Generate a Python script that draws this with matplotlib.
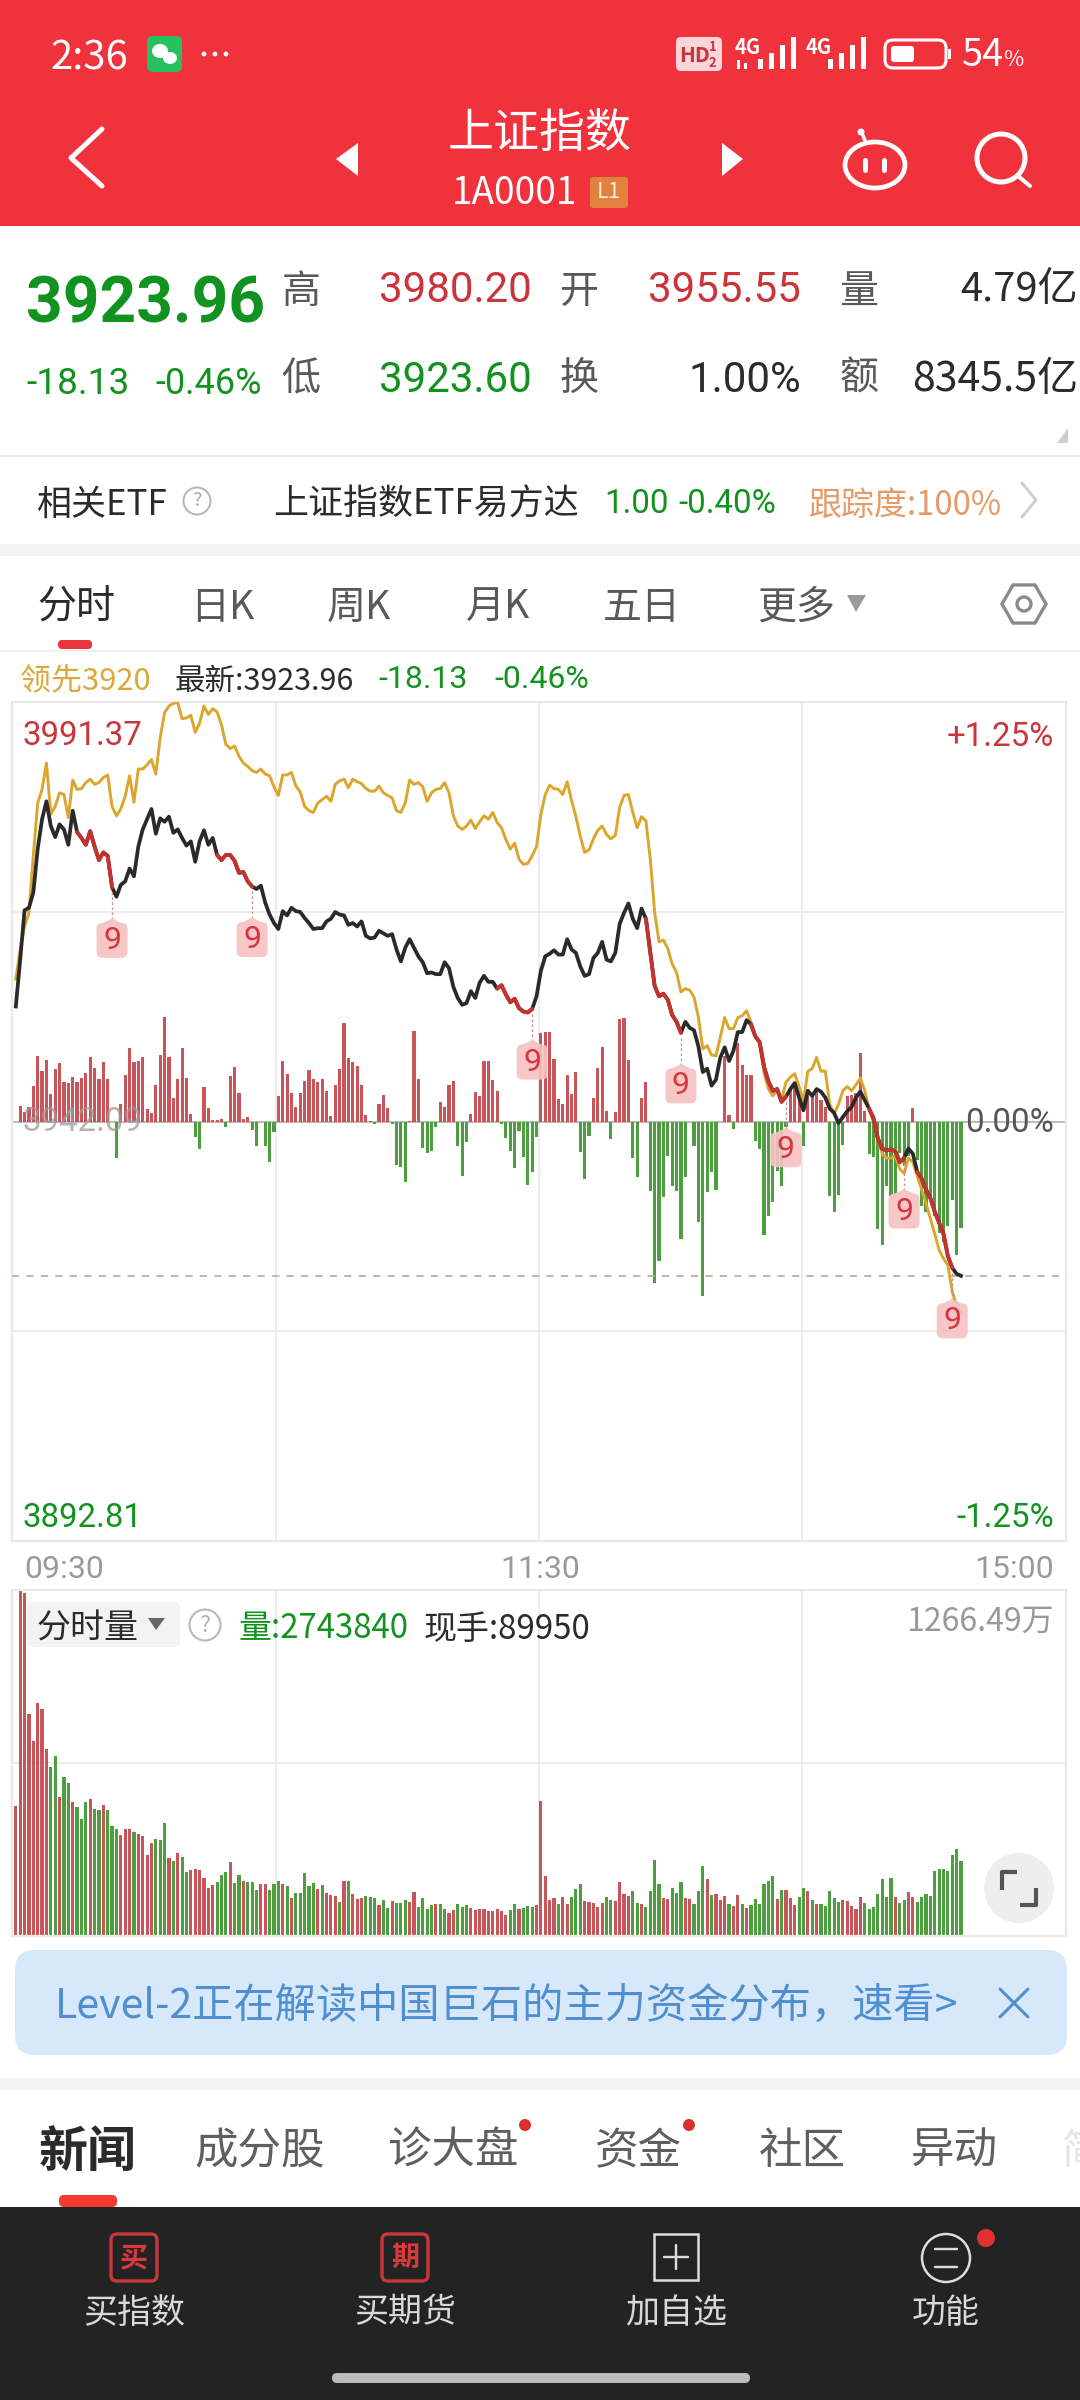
import matplotlib
matplotlib.use("Agg")
import matplotlib.pyplot as plt
from matplotlib.patches import Rectangle, FancyBboxPatch, Circle, Ellipse, Polygon
import numpy as np

# ---------- data ----------
prev_close = 3942.09
price_top = 3991.37
price_bot = 3892.81
vol_max = 1266.49

price = [
3955.6,3961.1,3966.9,3967.2,3969.0,3974.1,3977.6,3979.7,3976.8,3975.5,
3977.0,3976.4,3974.6,3978.6,3976.1,3975.4,3974.6,3976.2,3974.4,3972.8,
3973.7,3973.3,3969.6,3968.5,3969.9,3970.3,3971.8,3970.9,3974.4,3976.4,
3977.6,3978.8,3975.9,3977.7,3977.3,3977.9,3976.0,3976.4,3975.4,3974.5,
3975.0,3972.6,3975.0,3976.3,3974.6,3975.4,3973.4,3972.8,3973.4,3973.4,
3972.7,3971.3,3971.4,3970.3,3969.7,3969.4,3969.8,3967.8,3966.4,3965.4,
3964.7,3966.8,3966.3,3967.2,3966.8,3966.7,3966.0,3965.4,3964.7,3964.8,
3964.8,3965.6,3965.9,3966.7,3966.4,3966.3,3965.2,3965.4,3965.0,3965.6,
3963.9,3963.6,3963.7,3964.5,3964.2,3963.9,3964.1,3962.3,3960.9,3962.5,
3963.5,3962.5,3961.5,3960.8,3959.5,3959.6,3959.4,3959.4,3960.8,3960.1,
3957.9,3956.6,3955.8,3956.0,3957.4,3956.6,3958.4,3959.2,3958.5,3958.5,
3957.7,3958.1,3957.0,3956.1,3956.5,3955.4,3955.0,3954.9,3955.3,3956.8,
3959.8,3961.5,3961.8,3962.2,3961.7,3961.7,3963.5,3962.3,3961.9,3960.3,
3959.2,3959.4,3961.3,3961.9,3963.2,3961.1,3960.9,3961.9,3965.3,3966.6,
3967.7,3965.9,3964.8,3967.1,3965.9,3961.9,3958.0,3956.8,3957.1,3956.4,
3954.6,3953.8,3952.5,3953.8,3953.1,3952.8,3950.9,3947.9,3948.3,3946.3,
3947.0,3949.6,3950.8,3949.2,3950.4,3952.6,3952.6,3954.0,3953.5,3952.1,
3951.4,3948.5,3946.8,3945.7,3945.9,3944.4,3945.0,3945.9,3946.6,3944.9,
3943.4,3945.7,3945.1,3945.9,3945.6,3944.9,3943.6,3943.1,3941.9,3942.6,
3943.3,3943.8,3944.9,3945.6,3944.6,3943.6,3942.5,3940.1,3938.9,3938.7,
3938.8,3938.6,3937.3,3937.8,3938.9,3938.3,3936.2,3935.4,3934.1,3933.1,
3931.5,3930.2,3928.9,3926.3,3924.9,3924.2,3923.96]

leader = [
3958.8,3962.3,3965.0,3966.6,3973.3,3979.5,3981.1,3984.2,3978.2,3979.1,
3980.7,3980.5,3977.8,3982.2,3981.1,3981.2,3981.9,3982.3,3981.7,3981.9,
3982.5,3982.8,3979.1,3978.0,3978.8,3980.3,3982.7,3979.6,3983.5,3983.5,
3984.0,3984.6,3982.9,3987.2,3990.1,3990.9,3991.2,3991.3,3989.4,3989.5,
3989.8,3987.8,3988.9,3990.9,3989.9,3990.6,3990.2,3988.7,3986.4,3985.9,
3986.2,3985.0,3984.2,3983.8,3983.3,3983.1,3983.5,3982.9,3982.7,3981.4,
3980.4,3982.8,3982.8,3983.1,3981.5,3980.8,3979.1,3978.6,3978.4,3979.5,
3979.9,3980.3,3979.7,3981.7,3982.1,3982.3,3981.3,3982.3,3982.0,3981.8,
3981.2,3980.9,3980.9,3981.5,3980.7,3980.4,3980.1,3978.6,3978.4,3979.5,
3982.2,3981.7,3981.9,3981.4,3979.7,3980.7,3981.1,3981.2,3981.9,3980.7,
3978.0,3976.8,3976.4,3976.8,3977.5,3976.5,3977.3,3978.0,3977.6,3978.4,
3977.2,3976.6,3975.2,3974.1,3974.8,3972.9,3972.3,3972.4,3973.3,3974.4,
3978.2,3980.5,3981.6,3981.2,3981.1,3980.5,3982.0,3979.8,3977.9,3975.6,
3973.7,3974.0,3975.3,3976.3,3976.8,3975.8,3975.3,3975.7,3979.0,3980.4,
3980.5,3978.4,3976.6,3977.9,3977.4,3972.9,3966.6,3963.2,3963.4,3962.4,
3960.6,3959.6,3957.3,3957.7,3957.5,3956.7,3954.3,3950.6,3951.0,3949.9,
3949.8,3952.0,3954.3,3953.0,3953.0,3954.3,3954.5,3955.1,3953.8,3952.2,
3951.4,3947.8,3945.9,3945.1,3945.7,3944.6,3946.7,3947.3,3947.7,3946.2,
3944.4,3948.0,3948.3,3949.6,3948.0,3948.0,3944.1,3943.0,3944.1,3945.7,
3946.2,3945.7,3946.4,3947.2,3945.7,3943.6,3942.0,3939.9,3938.3,3937.8,
3937.8,3938.1,3936.5,3936.0,3937.8,3937.3,3935.7,3934.1,3932.5,3930.7,
3928.9,3927.0,3926.0,3925.2,3922.1,3920.5,3919.7]

flow = [
0,16,10,15,36,66,51,62,28,53,
59,40,39,45,40,44,49,65,54,43,
60,43,0,-36,18,47,74,60,61,65,
13,9,37,67,105,65,24,43,74,44,
8,-15,-27,35,14,2,2,3,-5,46,
55,29,3,5,-8,-24,0,-24,-40,-10,
26,61,48,29,15,29,41,52,43,40,
43,31,6,37,53,99,64,60,56,37,
7,1,-2,18,27,14,-2,-43,-45,-60,
1,91,43,-26,-31,-29,-5,20,15,37,
41,-24,-54,-20,8,30,26,61,61,42,
31,-2,-16,-29,-46,-9,-35,-63,-50,-15,
89,90,90,63,23,18,47,28,50,-30,
-57,-14,24,54,75,11,-17,10,103,104,
62,-36,-55,24,40,-69,-161,-139,-75,-34,
-64,-69,-117,-55,0,-24,-100,-174,-70,-50,
-68,0,66,7,-7,79,57,47,47,-19,
-27,-113,-94,-80,-49,-64,-5,34,39,22,
-24,26,27,31,22,15,-74,-90,-73,-23,
26,27,29,69,11,-32,-35,-107,-123,-64,
-74,-72,-31,-44,-34,14,-38,-84,-90,-78,
-94,-111,-120,-104,-78,-133,-106]

volume = [
477,1266,1255,812,715,853,831,686,619,658,
507,582,560,490,473,429,492,503,465,463,
479,460,404,390,368,390,392,381,375,365,
297,339,356,350,414,285,276,302,289,236,
241,244,240,213,174,185,199,225,234,272,
195,222,203,197,199,167,192,191,167,191,
203,192,183,140,156,156,229,183,195,173,
185,158,150,146,124,202,200,155,136,138,
145,143,140,112,130,102,129,122,122,132,
124,160,106,140,97,112,118,118,100,85,
95,118,106,114,104,94,100,100,90,90,
97,90,78,95,118,100,102,110,107,114,
493,219,130,140,118,144,116,144,171,189,
129,124,119,105,119,144,132,127,197,155,
145,163,122,116,105,164,280,192,139,134,
174,158,199,139,136,117,163,255,207,149,
152,132,146,118,110,150,116,101,112,134,
117,192,201,219,134,167,167,138,112,144,
177,164,133,116,116,110,166,138,125,133,
129,110,97,144,122,100,105,153,207,144,
213,144,122,133,161,141,124,144,152,146,
238,246,246,239,297,317,274]

volume_dir = (
"rrrrrrrrgg" "rggrgggrgg" "rgggrrrgrr" "rrgggrgrgg"
"rrrrrrgggr" "ggrgggrrgg" "grgrgggggr" "grrrgrgrrr"
"gggrggrggg" "rrggggrggr" "rgggrrrrrr" "rrrggrgggr"
"rrrrgrrggg" "rrrrrggrrr" "rggrggggrr" "gggrrgggrg"
"rrrgrrgrgg" "ggggrgrrrg" "grgrgggggr" "rrrrgggggg"
"grggrrgggg" "ggggggg")

red_runs = [(14,22),(46,54),(110,118),(144,152),(168,176),(195,203),(206,214)]
nine_marks = [22,54,118,152,176,203,214]
grid_fracs = [0.25,0.5,0.75]

RED='#c9353a'; GREEN='#12921f'; GRAY='#595959'; DARK='#2b2b2b'
BAR_R='#c9555b'; BAR_G='#4c9e3e'; GOLD='#dca52c'; LINE='#e9e9e9'

NUM=['Roboto','Noto Sans CJK SC']
CJK=['Noto Sans CJK SC','DejaVu Sans']

fig=plt.figure(figsize=(10.8,24),dpi=100,facecolor='white')
W,H=1080,2400
ui=fig.add_axes([0,0,1,1]); ui.set_xlim(0,W); ui.set_ylim(H,0); ui.axis('off')

def T(x,y,s,px,c=DARK,ha='left',w='normal',fam=NUM,a=None,zo=20,axs=None):
    return (axs or ui).text(x,y+4,s,fontsize=px*0.72,color=c,ha=ha,va='center',fontweight=w,family=fam,alpha=a,zorder=zo)
def R(x0,y0,x1,y1,c,zo=1):
    ui.add_patch(Rectangle((x0,y0),x1-x0,y1-y0,fc=c,ec='none',zorder=zo))
def RR(x0,y0,x1,y1,r,fc,ec='none',lw=0,zo=2):
    ui.add_patch(FancyBboxPatch((x0+r,y0+r),x1-x0-2*r,y1-y0-2*r,boxstyle=f"round,pad={r},rounding_size={r}",fc=fc,ec=ec,lw=lw,zorder=zo,mutation_aspect=1))
def L(xs,ys,c,lw,zo=5,cap='round'):
    ui.plot(xs,ys,color=c,lw=lw*0.72,zorder=zo,solid_capstyle=cap,solid_joinstyle='round')

# ---------- header ----------
R(0,0,W,226,'#f0323c')
T(50,54,'2:36',40,'white',fam=CJK)
RR(147,36,182,72,6,'#27c25f',zo=3)
ui.add_patch(Ellipse((160,51),16,14,fc='white',ec='none',zorder=4))
ui.add_patch(Ellipse((170,58),14,12,fc='white',ec='none',zorder=4))
for x in (204,215,226): ui.add_patch(Circle((x,54),2.4,fc='white',ec='none',zorder=4))
RR(676,37,722,71,5,'#fbd5d7',zo=3)
T(679,51,'HD',21,RED,w='bold',fam=CJK)
T(709,43,'1',13,RED,w='bold',fam=CJK); T(709,59,'2',13,RED,w='bold',fam=CJK)
T(735,43,'4G',20,'white',w='bold',fam=CJK)
T(806,43,'4G',20,'white',w='bold',fam=CJK)
for x0,hs in ((758,(10,16,24,32)),(828,(10,16,24,32))):
    for k,hh in enumerate(hs):
        R(x0+k*11,69-hh,x0+k*11+5,69,'white',3)
R(737,60,740,69,'white',3); R(744,63,747,69,'white',3)
RR(885,40,946,68,8,'none','white',2.2,zo=3)
RR(891,46,914,62,3,'white',zo=4)
R(948,49,951,59,'white',3)
T(962,52,'54',38,'white',fam=CJK)
T(1003,56,'%',22,'white',fam=CJK)
T(540,130,'上证指数',46,'white',ha='center',fam=CJK)
T(452,189,'1A0001',37,'white',fam=CJK)
RR(590,177,628,208,3,'#e0813d',zo=3)
T(609,188,'L1',22,'#ffe9d8',ha='center',fam=CJK)
L([102,71,102],[129,158,186],'white',5)
ui.add_patch(Polygon([(336,159),(358,143),(358,176)],fc='white',ec='none',zorder=4))
ui.add_patch(Polygon([(743,159),(722,143),(722,176)],fc='white',ec='none',zorder=4))
ui.add_patch(Ellipse((875,165),60,46,fc='none',ec='white',lw=3.4,zorder=4))
L([866,862],[143,133],'white',3.5)
ui.add_patch(Circle((861,132),3.5,fc='white',ec='none',zorder=4))
L([865,865],[160,170],'white',5); L([884,884],[160,170],'white',5)
ui.add_patch(Circle((1001,158),24,fc='none',ec='white',lw=3.6,zorder=4))
L([1018,1030],[176,186],'white',4)

# ---------- quote ----------
T(26,301,'3923.96',64,GREEN,w='bold')
T(26,380,'-18.13',37,GREEN); T(155,380,'-0.46%',36,GREEN)
for x,y,s in ((301,288,'高'),(301,375,'低'),(579,288,'开'),(579,375,'换'),(859,288,'量'),(859,375,'额')):
    T(x,y,s,39,GRAY,ha='center',fam=CJK)
T(379,286,'3980.20',42,RED); T(379,376,'3923.60',42,GREEN)
T(801,286,'3955.55',42,RED,ha='right'); T(801,376,'1.00%',42,DARK,ha='right')
T(1078,286,'4.79亿',40,DARK,ha='right',fam=CJK); T(1078,376,'8345.5亿',41,DARK,ha='right',fam=CJK)
ui.add_patch(Polygon([(1068,428),(1068,443),(1057,443)],fc='#cfcfcf',ec='none',zorder=3))
R(0,455,W,457,LINE)
T(36,501,'相关ETF',35,DARK,fam=CJK)
ui.add_patch(Circle((197,501),13.5,fc='none',ec='#b5b5b5',lw=1.4,zorder=4))
T(197,497,'?',20,'#a8a8a8',ha='center',fam=CJK)
T(273,501,'上证指数ETF易方达',35,DARK,fam=CJK)
T(604,500,'1.00',33,GREEN); T(678,500,'-0.40%',33,GREEN)
T(809,501,'跟踪度:100%',33,'#e79a68',fam=CJK)
L([1022,1036,1022],[483,500,517],'#cfcfcf',3)
R(0,544,W,556,'#f3f3f3')
for x,s,c in ((37,'分时',DARK),(190,'日K',GRAY),(327,'周K',GRAY),(466,'月K',GRAY),(603,'五日',GRAY),(757,'更多',GRAY)):
    T(x,604,s,39,c,fam=CJK)
ui.add_patch(Polygon([(847,595),(866,595),(856,612)],fc='#9a9a9a',ec='none',zorder=3))
hx=[1024+22*np.cos(a) for a in np.deg2rad(np.arange(0,360,60))]
hy=[604+22*np.sin(a) for a in np.deg2rad(np.arange(0,360,60))]
ui.add_patch(Polygon(list(zip(hx,hy)),fc='none',ec='#8a8a8a',lw=2.4,zorder=3))
ui.add_patch(Circle((1024,604),7,fc='none',ec='#8a8a8a',lw=2.4,zorder=3))
RR(58,640,92,649,4,'#e8363c')
R(0,650,W,652,'#f0f0f0')
T(20,677,'领先3920',31,'#d9a93a',fam=CJK)
T(175,677,'最新:3923.96',30.5,DARK,fam=CJK)
T(378,676,'-18.13',32,GREEN); T(494,676,'-0.46%',32,GREEN)

# ---------- price panel ----------
def rect_px(x0,y0,x1,y1):
    return [x0/W,1-y1/H,(x1-x0)/W,(y1-y0)/H]
XLIM=(-0.87,240.0)
idx=np.arange(len(price))
axf=fig.add_axes(rect_px(12,702,1066,1541),zorder=2)
axf.set_xlim(*XLIM); axf.set_ylim(-419.5,419.5)
for s in axf.spines.values(): s.set_color(LINE); s.set_linewidth(1.6)
axf.set_xticks([]); axf.set_yticks([])
xs_grid=[XLIM[0]+f*(XLIM[1]-XLIM[0]) for f in grid_fracs]
for xg in xs_grid: axf.axvline(xg,color=LINE,lw=1.2,zorder=0)
for yy in (209.75,-209.75): axf.axhline(yy,color=LINE,lw=1.2,zorder=0)
axf.axhline(0,color='#b0b0b0',lw=1.2,zorder=0)
fl=np.array(flow[:len(idx)])
axf.bar(idx,fl,width=0.72,color=[BAR_R if v>=0 else BAR_G for v in fl],zorder=1,linewidth=0)

axp=fig.add_axes(rect_px(12,702,1066,1541),zorder=3)
axp.patch.set_alpha(0)
axp.set_xlim(*XLIM); axp.set_ylim(price_bot,price_top)
axp.set_xticks([]); axp.set_yticks([])
for s in axp.spines.values(): s.set_visible(False)
axp.axhline(price[-1],color='#b8b39c',lw=1.3,ls=(0,(4,4)),zorder=2)
axp.plot(idx,leader,color=GOLD,lw=2.1,zorder=3,solid_joinstyle='round')
axp.plot(idx,price,color='#2a2a2a',lw=2.7,zorder=4,solid_joinstyle='round')
for a,b in red_runs:
    axp.plot(idx[a:b+1],price[a:b+1],color='#c8322e',lw=2.7,zorder=5,solid_joinstyle='round',solid_capstyle='round')

fig_txt=fig.add_axes([0,0,1,1],zorder=6); fig_txt.set_xlim(0,W); fig_txt.set_ylim(H,0); fig_txt.axis('off')
fig_txt.patch.set_alpha(0)
for i in nine_marks:
    dx,dy=axp.transData.transform((i,price[i]))
    lx,ly=dx,H-dy
    cy=ly+52
    fig_txt.plot([lx,lx],[ly+5,cy-20],color='#c98a8c',lw=0.9,ls=(0,(2,2)),zorder=7)
    fig_txt.add_patch(FancyBboxPatch((lx-11,cy-12),22,26,boxstyle='round,pad=4.5,rounding_size=6',fc='#f7c1c3',ec='none',alpha=0.92,zorder=8))
    fig_txt.add_patch(Polygon([(lx-10,cy-16),(lx,cy-21),(lx+10,cy-16)],fc='#f7c1c3',ec='none',alpha=0.92,zorder=8))
    fig_txt.text(lx,cy+1,'9',fontsize=23,color='#d6363c',ha='center',va='center',family=NUM,zorder=9)

T(23,732,'3991.37',33,RED,axs=fig_txt)
T(1054,733,'+1.25%',33,RED,ha='right',axs=fig_txt)
T(23,1118,'3942.09',33,'#9a9a9a',a=0.75,axs=fig_txt)
T(1054,1119,'0.00%',33,'#555555',ha='right',axs=fig_txt)
T(23,1514,'3892.81',33,GREEN,axs=fig_txt)
T(1054,1514,'-1.25%',33,GREEN,ha='right',axs=fig_txt)
T(24,1566,'09:30',32,'#9a9a9a',axs=fig_txt)
T(540,1566,'11:30',32,'#9a9a9a',ha='center',axs=fig_txt)
T(1054,1566,'15:00',32,'#9a9a9a',ha='right',axs=fig_txt)

# ---------- volume panel ----------
axv=fig.add_axes(rect_px(12,1590,1066,1936),zorder=2)
axv.set_xlim(*XLIM); axv.set_ylim(0,vol_max)
for s in axv.spines.values(): s.set_color(LINE); s.set_linewidth(1.6)
axv.set_xticks([]); axv.set_yticks([])
for xg in xs_grid: axv.axvline(xg,color=LINE,lw=1.2,zorder=0)
axv.axhline(vol_max/2,color=LINE,lw=1.2,zorder=0)
axv.bar(idx,volume,width=0.72,color=[BAR_R if d=='r' else BAR_G for d in volume_dir],zorder=1,linewidth=0,clip_on=False)

def RRt(x0,y0,x1,y1,r,fc,ec='none',lw=0,zo=2):
    fig_txt.add_patch(FancyBboxPatch((x0+r,y0+r),x1-x0-2*r,y1-y0-2*r,boxstyle=f"round,pad={r},rounding_size={r}",fc=fc,ec=ec,lw=lw,zorder=zo))
RRt(27,1602,180,1647,6,'#f3f3f3')
T(37,1625,'分时量',34,DARK,fam=CJK,axs=fig_txt)
fig_txt.add_patch(Polygon([(148,1618),(165,1618),(156,1630)],fc='#666666',ec='none',zorder=21))
fig_txt.add_patch(Circle((205,1625),15.5,fc='white',ec='#bdbdbd',lw=1.6,zorder=10))
T(205,1621,'?',23,'#b0b0b0',ha='center',fam=CJK,axs=fig_txt)
T(238,1625,'量:2743840',33,GREEN,fam=CJK,axs=fig_txt)
T(424,1625,'现手:89950',33,DARK,fam=CJK,axs=fig_txt)
T(1054,1618,'1266.49万',32,'#999999',ha='right',fam=CJK,axs=fig_txt)
fig_txt.add_patch(Circle((1019,1888),35,fc='#eeeeee',ec='none',zorder=10))
fig_txt.plot([1002,1002,1017],[1890,1872,1872],color='#555555',lw=3,zorder=11,solid_capstyle='butt')
fig_txt.plot([1020,1036,1036],[1905,1905,1888],color='#555555',lw=3,zorder=11,solid_capstyle='butt')

# ---------- banner and tabs ----------
RR(15,1950,1067,2055,20,'#d8e8fb')
T(55,2002,'Level-2正在解读中国巨石的主力资金分布，速看>',41.2,'#4f8fd0',fam=CJK)
L([1000,1028],[1989,2017],'#4f8fd0',3); L([1028,1000],[1989,2017],'#4f8fd0',3)
R(0,2078,W,2090,'#f3f3f3')
T(39,2148,'新闻',49,DARK,w='bold',fam=CJK)
for x,s in ((194,'成分股'),(388,'诊大盘'),(595,'资金'),(759,'社区'),(911,'异动')):
    T(x,2148,s,43.5,'#5f5f5f',fam=CJK)
T(1062,2148,'简',42,'#e6e6e6',fam=CJK)
for x in (525,689): ui.add_patch(Circle((x,2125),6,fc='#d9302f',ec='none',zorder=5))
RR(59,2195,117,2207,5,'#f03a30')
R(0,2207,W,H,'#232323',zo=6)

# ---------- bottom bar ----------
for cx,s in ((134,'买'),(405,'期')):
    RR(cx-23,2234,cx+23,2281,6,'none','#c8383a',2.4,zo=7)
    T(cx,2254,s,28,'#d8393b',ha='center',w='bold',fam=CJK)
ui.add_patch(Rectangle((654,2234),44,46,fc='none',ec='#dddddd',lw=1.8,zorder=7))
L([664,688],[2257,2257],'#dddddd',2.4,zo=7); L([676,676],[2245,2269],'#dddddd',2.4,zo=7)
ui.add_patch(Circle((946,2258),24,fc='none',ec='#dddddd',lw=1.8,zorder=7))
L([935,957],[2249,2249],'#dddddd',2.4,zo=7); L([935,957],[2267,2267],'#dddddd',2.4,zo=7)
ui.add_patch(Circle((986,2238),9,fc='#e03132',ec='none',zorder=7))
for cx,s in ((134,'买指数'),(405,'买期货'),(676,'加自选'),(946,'功能')):
    T(cx,2309,s,34,'#d9d9d9',ha='center',fam=CJK)
RR(332,2373,750,2383,5,'#bbbbbb',zo=7)

fig.savefig('out.png',dpi=100)
